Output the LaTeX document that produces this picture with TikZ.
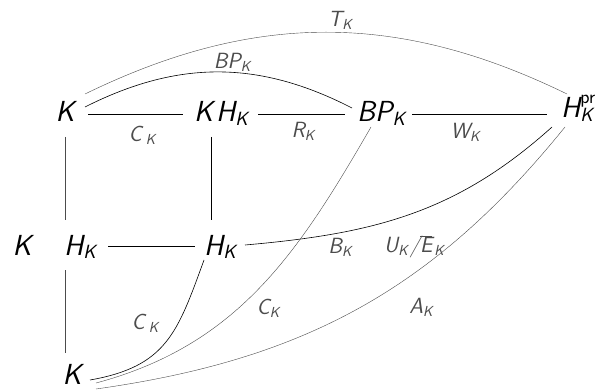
\documentclass[tikz,border=0pt]{standalone}
\usepackage{fontspec}
\usetikzlibrary{calc}
\newcommand\lo[1]{\raisebox{-0.13em}{\scalebox{0.66}{#1}}}
\begin{document}
\begin{tikzpicture}[x=1pt,y=1pt,
  main/.style={font=\fontsize{29}{29}\selectfont\sffamily\slshape, inner sep=0pt, text height=20pt, text depth=6pt},
  lab/.style={font=\fontsize{22}{22}\selectfont\sffamily\slshape, text=black!70, inner sep=0pt},
  ln/.style={line width=0.6pt, black},
  fine/.style={line width=0.4pt, black!70}]
\useasboundingbox (0,0) rectangle (601,391);
% nodes
\node[main] (K1) at (65,276) {K};
\node[main] (KH) at (221,276) {K\kern3pt H\lo{K}};
\node[main] (BP) at (381,276) {BP\lo{K}};
\node[main] (Hpr) at (577,280) {H\rlap{\raisebox{14pt}{\scalebox{0.66}{\upshape pr}}}\raisebox{-4pt}{\scalebox{0.66}{K}}};
\node[main] (KL) at (22,143) {K};
\node[main] (HL) at (80,143) {H\lo{K}};
\node[main] (HM) at (220,143) {H\lo{K}};
\node[main, text depth=2pt] (K2) at (72,16) {K};
% straight connectors
\draw[ln] ([shift={(23,1)}]K1.center) -- ([shift={(-38,1)}]KH.center);
\draw[ln] ([shift={(37,1)}]KH.center) -- ([shift={(-36,1)}]BP.center);
\draw[ln] ([shift={(31,1)}]BP.center) -- ([shift={(-30,-3)}]Hpr.center);
\draw[fine] ([shift={(0,-22)}]K1.center) -- ([shift={(-15,28)}]HL.center);
\draw[fine] ([shift={(-15,-22)}]HL.center) -- ([shift={(-7,22)}]K2.center);
\draw[ln] ([shift={(-10,-22)}]KH.center) -- ([shift={(-9,28)}]HM.center);
\draw[ln] ([shift={(28,2)}]HL.center) -- ([shift={(-25,2)}]HM.center);
% curved connectors
\draw[ln] ([shift={(20,8)}]K1.center) to[bend left=27] ([shift={(-29,7)}]BP.center);
\draw[fine] ([shift={(20,21)}]K1.center) to[bend left=26] ([shift={(-10,17)}]Hpr.center);
\draw[ln] ([shift={(25,3)}]HM.center) to[out=5,in=-138] ([shift={(-25,-16)}]Hpr.center);
\draw[ln] ([shift={(-16,-12)}]HM.center) to[out=-110,in=10,looseness=1.2] ([shift={(18,-5)}]K2.center);
\draw[fine] ([shift={(-10,-12)}]BP.center) to[out=-120,in=15] ([shift={(24,-8)}]K2.center);
\draw[fine] ([shift={(-12,-16)}]Hpr.center) to[out=-129,in=8] ([shift={(24,-14)}]K2.center);
% labels
\node[lab] (lT) at (340,371) {T\lo{K}};
\node[lab] (lBP) at (232,329) {BP\lo{K}};
\node[lab] (lC1) at (142,256) {C\kern4pt\lo{K}};
\node[lab] (lR) at (303,260) {R\lo{K}};
\node[lab] (lW) at (465,259) {W\lo{K}};
\node[lab] (lC2) at (145,68) {C\kern4pt\lo{K}};
\node[lab] (lC3) at (268,83) {C\lo{K}};
\node[lab] (lB) at (340,144) {B\lo{K}};
\node[lab] (lUE) at (414,144) {U\lo{K}\kern2pt/$\overline{\mbox{E}}$\kern2pt\lo{K}};
\node[lab] (lA) at (421,84) {A\lo{K}};
\end{tikzpicture}
\end{document}
